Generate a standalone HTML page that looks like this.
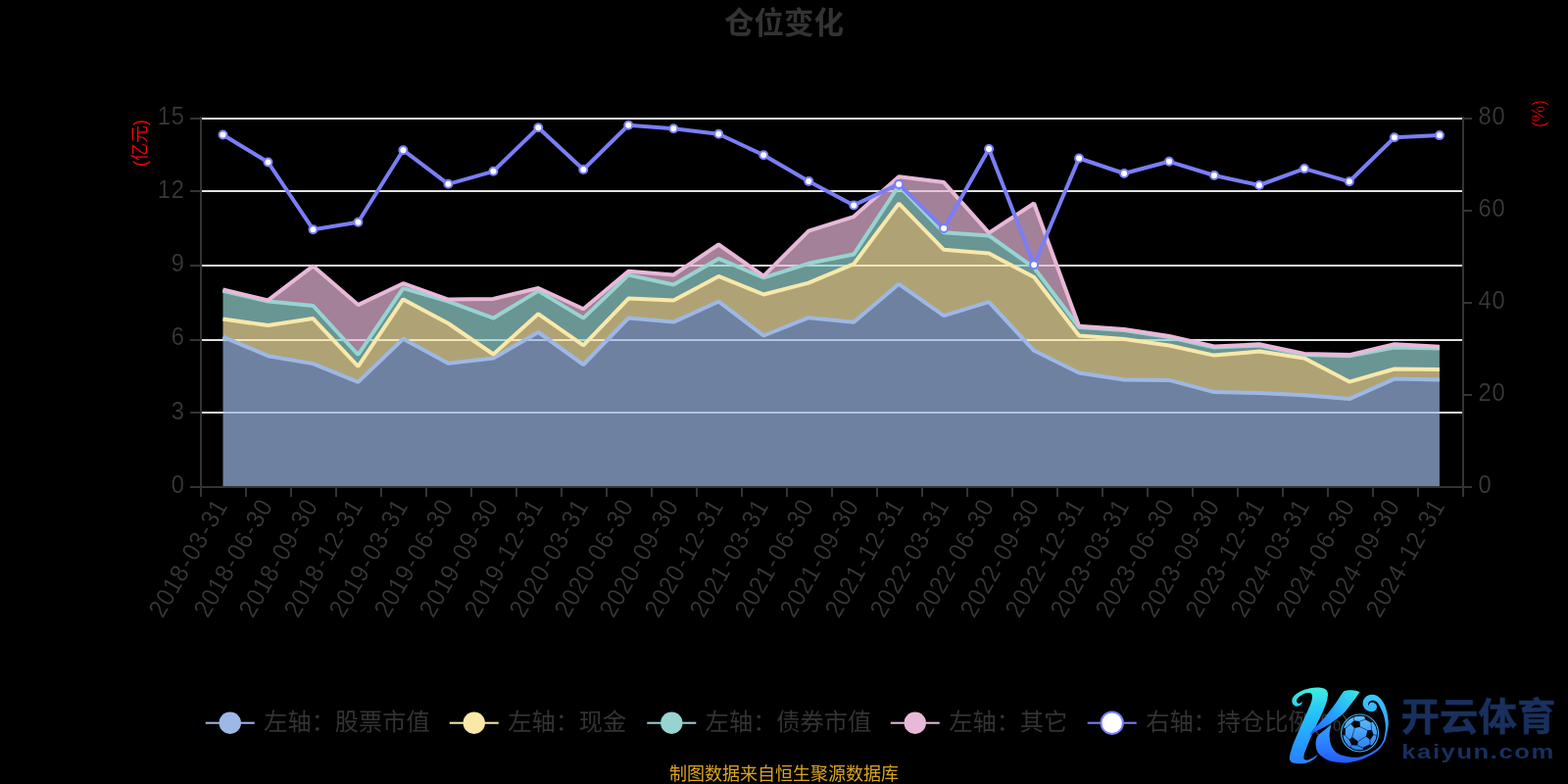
<!DOCTYPE html>
<html lang="zh-CN"><head><meta charset="utf-8"><title>仓位变化</title>
<style>
html,body{margin:0;padding:0;background:#000;}
body{width:1600px;height:800px;overflow:hidden;font-family:"Liberation Sans",sans-serif;}
svg{display:block;will-change:transform}
.lab text,text.lab{font-family:"Liberation Sans",sans-serif;font-size:26px;fill:#3a3a3a;stroke:#000;stroke-width:0.2px}
text.nm{font-family:"Liberation Sans",sans-serif;font-size:18px;fill:#f00;stroke:#000;stroke-width:0.35px}
text.cj{font-family:"Liberation Sans","Noto Sans CJK SC",sans-serif}
</style></head><body>
<svg width="1600" height="800" viewBox="0 0 1600 800">
<rect width="1600" height="800" fill="#000"/>
<rect x="206" y="120" width="1286" height="2" fill="#e0e0e0"/>
<rect x="206" y="194" width="1286" height="2" fill="#e0e0e0"/>
<rect x="206" y="270" width="1286" height="2" fill="#e0e0e0"/>
<rect x="206" y="346" width="1286" height="2" fill="#e0e0e0"/>
<rect x="206" y="420" width="1286" height="2" fill="#e0e0e0"/>
<polygon points="227.5,343.6 273.5,363.2 319.5,371.1 365.4,389.9 411.4,345.8 457.4,370.8 503.4,365.5 549.3,339.0 595.3,372.0 641.3,324.5 687.3,328.6 733.3,307.7 779.2,342.5 825.2,324.2 871.2,328.8 917.2,289.8 963.1,322.2 1009.1,308.1 1055.1,357.8 1101.1,380.5 1147.1,387.5 1193.0,387.9 1239.0,400.1 1285.0,401.1 1331.0,403.2 1376.9,407.1 1422.9,386.6 1468.9,387.5 1468.9,497.0 1422.9,497.0 1376.9,497.0 1331.0,497.0 1285.0,497.0 1239.0,497.0 1193.0,497.0 1147.1,497.0 1101.1,497.0 1055.1,497.0 1009.1,497.0 963.1,497.0 917.2,497.0 871.2,497.0 825.2,497.0 779.2,497.0 733.3,497.0 687.3,497.0 641.3,497.0 595.3,497.0 549.3,497.0 503.4,497.0 457.4,497.0 411.4,497.0 365.4,497.0 319.5,497.0 273.5,497.0 227.5,497.0" fill="#9db8e6" fill-opacity="0.7"/>
<polygon points="227.5,325.6 273.5,332.1 319.5,325.1 365.4,373.8 411.4,305.4 457.4,330.0 503.4,361.5 549.3,320.3 595.3,352.4 641.3,304.6 687.3,306.5 733.3,281.9 779.2,300.5 825.2,288.6 871.2,269.4 917.2,207.6 963.1,254.8 1009.1,258.6 1055.1,282.8 1101.1,342.5 1147.1,345.9 1193.0,352.5 1239.0,362.6 1285.0,358.6 1331.0,365.6 1376.9,389.6 1422.9,376.5 1468.9,377.0 1468.9,387.5 1422.9,386.6 1376.9,407.1 1331.0,403.2 1285.0,401.1 1239.0,400.1 1193.0,387.9 1147.1,387.5 1101.1,380.5 1055.1,357.8 1009.1,308.1 963.1,322.2 917.2,289.8 871.2,328.8 825.2,324.2 779.2,342.5 733.3,307.7 687.3,328.6 641.3,324.5 595.3,372.0 549.3,339.0 503.4,365.5 457.4,370.8 411.4,345.8 365.4,389.9 319.5,371.1 273.5,363.2 227.5,343.6" fill="#fae8a8" fill-opacity="0.7"/>
<polygon points="227.5,296.8 273.5,307.6 319.5,312.0 365.4,362.0 411.4,294.1 457.4,307.6 503.4,324.7 549.3,296.9 595.3,324.6 641.3,280.6 687.3,290.5 733.3,263.9 779.2,283.4 825.2,268.8 871.2,259.5 917.2,189.5 963.1,237.3 1009.1,240.4 1055.1,273.1 1101.1,334.0 1147.1,337.1 1193.0,344.1 1239.0,354.6 1285.0,352.5 1331.0,362.0 1376.9,363.2 1422.9,354.6 1468.9,355.4 1468.9,377.0 1422.9,376.5 1376.9,389.6 1331.0,365.6 1285.0,358.6 1239.0,362.6 1193.0,352.5 1147.1,345.9 1101.1,342.5 1055.1,282.8 1009.1,258.6 963.1,254.8 917.2,207.6 871.2,269.4 825.2,288.6 779.2,300.5 733.3,281.9 687.3,306.5 641.3,304.6 595.3,352.4 549.3,320.3 503.4,361.5 457.4,330.0 411.4,305.4 365.4,373.8 319.5,325.1 273.5,332.1 227.5,325.6" fill="#96d4d2" fill-opacity="0.7"/>
<polygon points="227.5,295.5 273.5,306.4 319.5,271.4 365.4,311.1 411.4,289.2 457.4,305.6 503.4,304.9 549.3,294.0 595.3,315.2 641.3,276.7 687.3,280.5 733.3,249.5 779.2,281.6 825.2,235.6 871.2,221.1 917.2,180.2 963.1,186.1 1009.1,237.7 1055.1,207.5 1101.1,332.7 1147.1,335.9 1193.0,342.9 1239.0,353.4 1285.0,351.3 1331.0,360.9 1376.9,362.1 1422.9,351.3 1468.9,353.7 1468.9,355.4 1422.9,354.6 1376.9,363.2 1331.0,362.0 1285.0,352.5 1239.0,354.6 1193.0,344.1 1147.1,337.1 1101.1,334.0 1055.1,273.1 1009.1,240.4 963.1,237.3 917.2,189.5 871.2,259.5 825.2,268.8 779.2,283.4 733.3,263.9 687.3,290.5 641.3,280.6 595.3,324.6 549.3,296.9 503.4,324.7 457.4,307.6 411.4,294.1 365.4,362.0 319.5,312.0 273.5,307.6 227.5,296.8" fill="#e8b8d8" fill-opacity="0.7"/>
<polyline points="227.5,343.6 273.5,363.2 319.5,371.1 365.4,389.9 411.4,345.8 457.4,370.8 503.4,365.5 549.3,339.0 595.3,372.0 641.3,324.5 687.3,328.6 733.3,307.7 779.2,342.5 825.2,324.2 871.2,328.8 917.2,289.8 963.1,322.2 1009.1,308.1 1055.1,357.8 1101.1,380.5 1147.1,387.5 1193.0,387.9 1239.0,400.1 1285.0,401.1 1331.0,403.2 1376.9,407.1 1422.9,386.6 1468.9,387.5" fill="none" stroke="#9db8e6" stroke-width="4" stroke-linejoin="bevel"/>
<polyline points="227.5,325.6 273.5,332.1 319.5,325.1 365.4,373.8 411.4,305.4 457.4,330.0 503.4,361.5 549.3,320.3 595.3,352.4 641.3,304.6 687.3,306.5 733.3,281.9 779.2,300.5 825.2,288.6 871.2,269.4 917.2,207.6 963.1,254.8 1009.1,258.6 1055.1,282.8 1101.1,342.5 1147.1,345.9 1193.0,352.5 1239.0,362.6 1285.0,358.6 1331.0,365.6 1376.9,389.6 1422.9,376.5 1468.9,377.0" fill="none" stroke="#fae8a8" stroke-width="4" stroke-linejoin="bevel"/>
<polyline points="227.5,296.8 273.5,307.6 319.5,312.0 365.4,362.0 411.4,294.1 457.4,307.6 503.4,324.7 549.3,296.9 595.3,324.6 641.3,280.6 687.3,290.5 733.3,263.9 779.2,283.4 825.2,268.8 871.2,259.5 917.2,189.5 963.1,237.3 1009.1,240.4 1055.1,273.1 1101.1,334.0 1147.1,337.1 1193.0,344.1 1239.0,354.6 1285.0,352.5 1331.0,362.0 1376.9,363.2 1422.9,354.6 1468.9,355.4" fill="none" stroke="#96d4d2" stroke-width="4" stroke-linejoin="bevel"/>
<polyline points="227.5,295.5 273.5,306.4 319.5,271.4 365.4,311.1 411.4,289.2 457.4,305.6 503.4,304.9 549.3,294.0 595.3,315.2 641.3,276.7 687.3,280.5 733.3,249.5 779.2,281.6 825.2,235.6 871.2,221.1 917.2,180.2 963.1,186.1 1009.1,237.7 1055.1,207.5 1101.1,332.7 1147.1,335.9 1193.0,342.9 1239.0,353.4 1285.0,351.3 1331.0,360.9 1376.9,362.1 1422.9,351.3 1468.9,353.7" fill="none" stroke="#e8b8d8" stroke-width="4" stroke-linejoin="bevel"/>
<polyline points="227.5,137.5 273.5,165.5 319.5,234.2 365.4,226.8 411.4,153.2 457.4,187.8 503.4,174.8 549.3,130.2 595.3,173.0 641.3,127.8 687.3,131.2 733.3,136.8 779.2,158.2 825.2,184.9 871.2,209.4 917.2,187.9 963.1,233.0 1009.1,152.0 1055.1,270.2 1101.1,161.5 1147.1,177.0 1193.0,164.8 1239.0,179.0 1285.0,189.0 1331.0,172.1 1376.9,185.3 1422.9,140.3 1468.9,138.1" fill="none" stroke="#7a7ef6" stroke-width="4" stroke-linejoin="bevel"/>
<g fill="#fff" stroke="#7a7ef6" stroke-width="2"><circle cx="227.5" cy="137.5" r="4"/><circle cx="273.5" cy="165.5" r="4"/><circle cx="319.5" cy="234.2" r="4"/><circle cx="365.4" cy="226.8" r="4"/><circle cx="411.4" cy="153.2" r="4"/><circle cx="457.4" cy="187.8" r="4"/><circle cx="503.4" cy="174.8" r="4"/><circle cx="549.3" cy="130.2" r="4"/><circle cx="595.3" cy="173.0" r="4"/><circle cx="641.3" cy="127.8" r="4"/><circle cx="687.3" cy="131.2" r="4"/><circle cx="733.3" cy="136.8" r="4"/><circle cx="779.2" cy="158.2" r="4"/><circle cx="825.2" cy="184.9" r="4"/><circle cx="871.2" cy="209.4" r="4"/><circle cx="917.2" cy="187.9" r="4"/><circle cx="963.1" cy="233.0" r="4"/><circle cx="1009.1" cy="152.0" r="4"/><circle cx="1055.1" cy="270.2" r="4"/><circle cx="1101.1" cy="161.5" r="4"/><circle cx="1147.1" cy="177.0" r="4"/><circle cx="1193.0" cy="164.8" r="4"/><circle cx="1239.0" cy="179.0" r="4"/><circle cx="1285.0" cy="189.0" r="4"/><circle cx="1331.0" cy="172.1" r="4"/><circle cx="1376.9" cy="185.3" r="4"/><circle cx="1422.9" cy="140.3" r="4"/><circle cx="1468.9" cy="138.1" r="4"/></g>
<g fill="#333">
<rect x="204" y="119" width="2" height="379"/>
<rect x="1492" y="119" width="2" height="379"/>
<rect x="204" y="496" width="1290" height="2"/>
<rect x="194" y="120" width="10" height="2"/>
<rect x="194" y="194" width="10" height="2"/>
<rect x="194" y="270" width="10" height="2"/>
<rect x="194" y="346" width="10" height="2"/>
<rect x="194" y="420" width="10" height="2"/>
<rect x="194" y="496" width="10" height="2"/>
<rect x="1494" y="120" width="8" height="2"/>
<rect x="1494" y="214" width="8" height="2"/>
<rect x="1494" y="308" width="8" height="2"/>
<rect x="1494" y="402" width="8" height="2"/>
<rect x="1494" y="496" width="8" height="2"/>
<rect x="204" y="498" width="2" height="9"/>
<rect x="250" y="498" width="2" height="9"/>
<rect x="296" y="498" width="2" height="9"/>
<rect x="342" y="498" width="2" height="9"/>
<rect x="388" y="498" width="2" height="9"/>
<rect x="434" y="498" width="2" height="9"/>
<rect x="480" y="498" width="2" height="9"/>
<rect x="526" y="498" width="2" height="9"/>
<rect x="572" y="498" width="2" height="9"/>
<rect x="618" y="498" width="2" height="9"/>
<rect x="664" y="498" width="2" height="9"/>
<rect x="710" y="498" width="2" height="9"/>
<rect x="756" y="498" width="2" height="9"/>
<rect x="802" y="498" width="2" height="9"/>
<rect x="848" y="498" width="2" height="9"/>
<rect x="894" y="498" width="2" height="9"/>
<rect x="940" y="498" width="2" height="9"/>
<rect x="986" y="498" width="2" height="9"/>
<rect x="1032" y="498" width="2" height="9"/>
<rect x="1078" y="498" width="2" height="9"/>
<rect x="1124" y="498" width="2" height="9"/>
<rect x="1170" y="498" width="2" height="9"/>
<rect x="1216" y="498" width="2" height="9"/>
<rect x="1262" y="498" width="2" height="9"/>
<rect x="1308" y="498" width="2" height="9"/>
<rect x="1354" y="498" width="2" height="9"/>
<rect x="1400" y="498" width="2" height="9"/>
<rect x="1446" y="498" width="2" height="9"/>
<rect x="1492" y="498" width="2" height="9"/>
</g>
<g class="lab" style="opacity:0.999">
<g transform="translate(188.3 126.7) scale(0.91 1)"><text x="-30.41 -14.96">15</text></g>
<g transform="translate(188.3 201.9) scale(0.91 1)"><text x="-30.41 -14.96">12</text></g>
<g transform="translate(188.3 277.1) scale(0.91 1)"><text x="-14.96">9</text></g>
<g transform="translate(188.3 352.3) scale(0.91 1)"><text x="-14.96">6</text></g>
<g transform="translate(188.3 427.5) scale(0.91 1)"><text x="-14.96">3</text></g>
<g transform="translate(188.3 502.7) scale(0.91 1)"><text x="-14.96">0</text></g>
<g transform="translate(1508 126.7) scale(0.91 1)"><text x="0.49 15.95">80</text></g>
<g transform="translate(1508 220.7) scale(0.91 1)"><text x="0.49 15.95">60</text></g>
<g transform="translate(1508 314.7) scale(0.91 1)"><text x="0.49 15.95">40</text></g>
<g transform="translate(1508 408.7) scale(0.91 1)"><text x="0.49 15.95">20</text></g>
<g transform="translate(1508 502.7) scale(0.91 1)"><text x="0.49">0</text></g>
<g transform="translate(228.0 513) rotate(-60) translate(0 5.7) scale(0.91 1)"><text x="-146.85 -131.40 -115.94 -100.49 -83.93 -73.18 -57.73 -41.16 -30.41 -14.96">2018-03-31</text></g>
<g transform="translate(274.0 513) rotate(-60) translate(0 5.7) scale(0.91 1)"><text x="-146.85 -131.40 -115.94 -100.49 -83.93 -73.18 -57.73 -41.16 -30.41 -14.96">2018-06-30</text></g>
<g transform="translate(320.0 513) rotate(-60) translate(0 5.7) scale(0.91 1)"><text x="-146.85 -131.40 -115.94 -100.49 -83.93 -73.18 -57.73 -41.16 -30.41 -14.96">2018-09-30</text></g>
<g transform="translate(366.0 513) rotate(-60) translate(0 5.7) scale(0.91 1)"><text x="-146.85 -131.40 -115.94 -100.49 -83.93 -73.18 -57.73 -41.16 -30.41 -14.96">2018-12-31</text></g>
<g transform="translate(412.0 513) rotate(-60) translate(0 5.7) scale(0.91 1)"><text x="-146.85 -131.40 -115.94 -100.49 -83.93 -73.18 -57.73 -41.16 -30.41 -14.96">2019-03-31</text></g>
<g transform="translate(458.0 513) rotate(-60) translate(0 5.7) scale(0.91 1)"><text x="-146.85 -131.40 -115.94 -100.49 -83.93 -73.18 -57.73 -41.16 -30.41 -14.96">2019-06-30</text></g>
<g transform="translate(504.0 513) rotate(-60) translate(0 5.7) scale(0.91 1)"><text x="-146.85 -131.40 -115.94 -100.49 -83.93 -73.18 -57.73 -41.16 -30.41 -14.96">2019-09-30</text></g>
<g transform="translate(550.0 513) rotate(-60) translate(0 5.7) scale(0.91 1)"><text x="-146.85 -131.40 -115.94 -100.49 -83.93 -73.18 -57.73 -41.16 -30.41 -14.96">2019-12-31</text></g>
<g transform="translate(596.0 513) rotate(-60) translate(0 5.7) scale(0.91 1)"><text x="-146.85 -131.40 -115.94 -100.49 -83.93 -73.18 -57.73 -41.16 -30.41 -14.96">2020-03-31</text></g>
<g transform="translate(642.0 513) rotate(-60) translate(0 5.7) scale(0.91 1)"><text x="-146.85 -131.40 -115.94 -100.49 -83.93 -73.18 -57.73 -41.16 -30.41 -14.96">2020-06-30</text></g>
<g transform="translate(688.0 513) rotate(-60) translate(0 5.7) scale(0.91 1)"><text x="-146.85 -131.40 -115.94 -100.49 -83.93 -73.18 -57.73 -41.16 -30.41 -14.96">2020-09-30</text></g>
<g transform="translate(734.0 513) rotate(-60) translate(0 5.7) scale(0.91 1)"><text x="-146.85 -131.40 -115.94 -100.49 -83.93 -73.18 -57.73 -41.16 -30.41 -14.96">2020-12-31</text></g>
<g transform="translate(780.0 513) rotate(-60) translate(0 5.7) scale(0.91 1)"><text x="-146.85 -131.40 -115.94 -100.49 -83.93 -73.18 -57.73 -41.16 -30.41 -14.96">2021-03-31</text></g>
<g transform="translate(826.0 513) rotate(-60) translate(0 5.7) scale(0.91 1)"><text x="-146.85 -131.40 -115.94 -100.49 -83.93 -73.18 -57.73 -41.16 -30.41 -14.96">2021-06-30</text></g>
<g transform="translate(872.0 513) rotate(-60) translate(0 5.7) scale(0.91 1)"><text x="-146.85 -131.40 -115.94 -100.49 -83.93 -73.18 -57.73 -41.16 -30.41 -14.96">2021-09-30</text></g>
<g transform="translate(918.0 513) rotate(-60) translate(0 5.7) scale(0.91 1)"><text x="-146.85 -131.40 -115.94 -100.49 -83.93 -73.18 -57.73 -41.16 -30.41 -14.96">2021-12-31</text></g>
<g transform="translate(964.0 513) rotate(-60) translate(0 5.7) scale(0.91 1)"><text x="-146.85 -131.40 -115.94 -100.49 -83.93 -73.18 -57.73 -41.16 -30.41 -14.96">2022-03-31</text></g>
<g transform="translate(1010.0 513) rotate(-60) translate(0 5.7) scale(0.91 1)"><text x="-146.85 -131.40 -115.94 -100.49 -83.93 -73.18 -57.73 -41.16 -30.41 -14.96">2022-06-30</text></g>
<g transform="translate(1056.0 513) rotate(-60) translate(0 5.7) scale(0.91 1)"><text x="-146.85 -131.40 -115.94 -100.49 -83.93 -73.18 -57.73 -41.16 -30.41 -14.96">2022-09-30</text></g>
<g transform="translate(1102.0 513) rotate(-60) translate(0 5.7) scale(0.91 1)"><text x="-146.85 -131.40 -115.94 -100.49 -83.93 -73.18 -57.73 -41.16 -30.41 -14.96">2022-12-31</text></g>
<g transform="translate(1148.0 513) rotate(-60) translate(0 5.7) scale(0.91 1)"><text x="-146.85 -131.40 -115.94 -100.49 -83.93 -73.18 -57.73 -41.16 -30.41 -14.96">2023-03-31</text></g>
<g transform="translate(1194.0 513) rotate(-60) translate(0 5.7) scale(0.91 1)"><text x="-146.85 -131.40 -115.94 -100.49 -83.93 -73.18 -57.73 -41.16 -30.41 -14.96">2023-06-30</text></g>
<g transform="translate(1240.0 513) rotate(-60) translate(0 5.7) scale(0.91 1)"><text x="-146.85 -131.40 -115.94 -100.49 -83.93 -73.18 -57.73 -41.16 -30.41 -14.96">2023-09-30</text></g>
<g transform="translate(1286.0 513) rotate(-60) translate(0 5.7) scale(0.91 1)"><text x="-146.85 -131.40 -115.94 -100.49 -83.93 -73.18 -57.73 -41.16 -30.41 -14.96">2023-12-31</text></g>
<g transform="translate(1332.0 513) rotate(-60) translate(0 5.7) scale(0.91 1)"><text x="-146.85 -131.40 -115.94 -100.49 -83.93 -73.18 -57.73 -41.16 -30.41 -14.96">2024-03-31</text></g>
<g transform="translate(1378.0 513) rotate(-60) translate(0 5.7) scale(0.91 1)"><text x="-146.85 -131.40 -115.94 -100.49 -83.93 -73.18 -57.73 -41.16 -30.41 -14.96">2024-06-30</text></g>
<g transform="translate(1424.0 513) rotate(-60) translate(0 5.7) scale(0.91 1)"><text x="-146.85 -131.40 -115.94 -100.49 -83.93 -73.18 -57.73 -41.16 -30.41 -14.96">2024-09-30</text></g>
<g transform="translate(1470.0 513) rotate(-60) translate(0 5.7) scale(0.91 1)"><text x="-146.85 -131.40 -115.94 -100.49 -83.93 -73.18 -57.73 -41.16 -30.41 -14.96">2024-12-31</text></g>
</g>
<g style="opacity:0.999"><text class="nm" transform="translate(1569.6 116) rotate(-90)" text-anchor="middle" y="6.5">(%)</text></g>
<g transform="translate(142.5 145.9) rotate(-90) translate(0 6.6)"><text class="cj" x="0" y="0" text-anchor="middle" font-size="18" fill="#f00">(亿元)</text></g>
<text class="cj" x="739" y="34.3" font-size="30.5" font-weight="bold" fill="#333">仓位变化</text>
<rect x="209.75" y="736.70" width="50" height="2" fill="#9db8e6"/>
<circle cx="234.75" cy="737.70" r="11.2" fill="#9db8e6"/>
<text class="cj" x="269.25" y="744.9" font-size="24.2" fill="#333">左轴：股票市值</text>
<rect x="458.75" y="736.70" width="50" height="2" fill="#fae8a8"/>
<circle cx="483.75" cy="737.70" r="11.2" fill="#fae8a8"/>
<text class="cj" x="518.25" y="744.9" font-size="24.2" fill="#333">左轴：现金</text>
<rect x="660.30" y="736.70" width="50" height="2" fill="#96d4d2"/>
<circle cx="685.30" cy="737.70" r="11.2" fill="#96d4d2"/>
<text class="cj" x="719.8" y="744.9" font-size="24.2" fill="#333">左轴：债券市值</text>
<rect x="908.75" y="736.70" width="50" height="2" fill="#e8b8d8"/>
<circle cx="933.75" cy="737.70" r="11.2" fill="#e8b8d8"/>
<text class="cj" x="968.25" y="744.9" font-size="24.2" fill="#333">左轴：其它</text>
<rect x="1109.70" y="736.70" width="50" height="2" fill="#7a7ef6"/>
<circle cx="1134.70" cy="737.70" r="11.2" fill="#fff" stroke="#7a7ef6" stroke-width="2"/>
<text class="cj" x="1169.2" y="744.9" font-size="24.2" fill="#333">右轴：持仓比例</text>
<g style="opacity:0.999"><text class="lab" x="1339.60" y="745.6" style="font-size:24px">(%)</text></g>
<text class="cj" x="683" y="796" font-size="18" fill="#daa520">制图数据来自恒生聚源数据库</text>
<defs><linearGradient id="kg" gradientUnits="userSpaceOnUse" x1="0" y1="30" x2="0" y2="750"><stop offset="0" stop-color="#40eedc"/><stop offset="0.3" stop-color="#27c6fa"/><stop offset="0.6" stop-color="#25a6ff"/><stop offset="1" stop-color="#2a7cff"/></linearGradient><linearGradient id="sg" gradientUnits="userSpaceOnUse" x1="0" y1="90" x2="0" y2="750"><stop offset="0" stop-color="#3ccafa"/><stop offset="0.25" stop-color="#36b2ff"/><stop offset="0.5" stop-color="#2f98ff"/><stop offset="0.78" stop-color="#2a74ff"/><stop offset="1" stop-color="#2350fa"/></linearGradient><linearGradient id="bg" gradientUnits="userSpaceOnUse" x1="0" y1="290" x2="0" y2="600"><stop offset="0" stop-color="#5cc0ff"/><stop offset="1" stop-color="#2f7cf0"/></linearGradient><linearGradient id="ag" gradientUnits="userSpaceOnUse" x1="620" y1="60" x2="250" y2="460"><stop offset="0" stop-color="#38e0e6"/><stop offset="0.45" stop-color="#24a8ff"/><stop offset="0.8" stop-color="#2a78ff"/><stop offset="1" stop-color="#2a50f0"/></linearGradient></defs>
<g transform="translate(1310 698) scale(0.11250)">
<path d="M433.0,369.0 C422.3,377.2 388.7,402.5 369.0,418.0 C349.3,433.5 327.7,447.2 315.0,462.0 C302.3,476.8 297.2,492.2 293.0,507.0 C288.8,521.8 288.8,535.5 290.0,551.0 C291.2,566.5 293.3,584.3 300.0,600.0 C306.7,615.7 313.3,630.0 330.0,645.0 C346.7,660.0 374.5,679.3 400.0,690.0 C425.5,700.7 455.2,704.8 483.0,709.0 C510.8,713.2 539.2,716.3 567.0,715.0 C594.8,713.7 622.3,708.0 650.0,701.0 C677.7,694.0 705.2,685.0 733.0,673.0 C760.8,661.0 793.8,643.8 817.0,629.0 C840.2,614.2 855.3,602.5 872.0,584.0 C888.7,565.5 907.0,538.3 917.0,518.0 C927.0,497.7 927.0,484.0 932.0,462.0 C937.0,440.0 944.3,408.0 947.0,386.0 C949.7,364.0 948.8,346.0 948.0,330.0 C947.2,314.0 944.2,302.8 942.0,290.0 C939.8,277.2 939.3,269.2 935.0,253.0 C930.7,236.8 923.7,210.7 916.0,193.0 C908.3,175.3 899.0,160.3 889.0,147.0 C879.0,133.7 867.7,121.2 856.0,113.0 C844.3,104.8 831.3,100.7 819.0,98.0 C806.7,95.3 793.7,95.0 782.0,97.0 C770.3,99.0 758.3,103.3 749.0,110.0 C739.7,116.7 731.5,127.0 726.0,137.0 C720.5,147.0 716.7,159.0 716.0,170.0 C715.3,181.0 717.7,193.0 722.0,203.0 C726.3,213.0 733.7,222.7 742.0,230.0 C750.3,237.3 761.3,243.7 772.0,247.0 C782.7,250.3 796.5,251.2 806.0,250.0 C815.5,248.8 823.0,245.0 829.0,240.0 C835.0,235.0 839.5,226.7 842.0,220.0 C844.5,213.3 845.0,206.3 844.0,200.0 C843.0,193.7 840.7,187.3 836.0,182.0 C831.3,176.7 823.3,170.5 816.0,168.0 C808.7,165.5 798.7,165.3 792.0,167.0 C785.3,168.7 779.2,172.5 776.0,178.0 C772.8,183.5 773.5,196.3 773.0,200.0 C771.7,196.8 764.8,187.3 765.0,181.0 C765.2,174.7 769.5,167.0 774.0,162.0 C778.5,157.0 784.3,152.8 792.0,151.0 C799.7,149.2 811.0,148.7 820.0,151.0 C829.0,153.3 838.7,158.5 846.0,165.0 C853.3,171.5 858.0,179.7 864.0,190.0 C870.0,200.3 875.7,213.7 882.0,227.0 C888.3,240.3 896.3,253.7 902.0,270.0 C907.7,286.3 912.5,305.0 916.0,325.0 C919.5,345.0 923.0,368.3 923.0,390.0 C923.0,411.7 919.8,433.7 916.0,455.0 C912.2,476.3 909.2,498.3 900.0,518.0 C890.8,537.7 879.5,555.5 861.0,573.0 C842.5,590.5 814.8,609.0 789.0,623.0 C763.2,637.0 733.8,650.0 706.0,657.0 C678.2,664.0 647.0,665.5 622.0,665.0 C597.0,664.5 578.2,660.0 556.0,654.0 C533.8,648.0 507.5,640.5 489.0,629.0 C470.5,617.5 456.2,601.7 445.0,585.0 C433.8,568.3 427.0,549.5 422.0,529.0 C417.0,508.5 415.3,481.0 415.0,462.0 C414.7,443.0 417.0,430.5 420.0,415.0 C423.0,399.5 430.8,376.7 433.0,369.0 Z" fill="url(#sg)"/>
<path d="M401.0,93.0 C399.3,103.0 397.2,130.7 391.0,153.0 C384.8,175.3 374.0,202.5 364.0,227.0 C354.0,251.5 342.0,276.7 331.0,300.0 C320.0,323.3 309.2,343.7 298.0,367.0 C286.8,390.3 276.2,412.8 264.0,440.0 C251.8,467.2 236.0,503.3 225.0,530.0 C214.0,556.7 205.2,580.0 198.0,600.0 C190.8,620.0 184.3,636.0 182.0,650.0 C179.7,664.0 183.7,678.3 184.0,684.0 C189.2,684.7 201.5,690.7 215.0,688.0 C228.5,685.3 248.8,676.3 265.0,668.0 C281.2,659.7 304.2,643.0 312.0,638.0 C305.0,645.8 288.7,671.7 270.0,685.0 C251.3,698.3 224.2,711.8 200.0,718.0 C175.8,724.2 145.8,723.0 125.0,722.0 C104.2,721.0 87.2,719.0 75.0,712.0 C62.8,705.0 54.8,693.7 52.0,680.0 C49.2,666.3 57.0,638.3 58.0,630.0 C62.5,615.8 75.0,572.2 85.0,545.0 C95.0,517.8 107.0,493.3 118.0,467.0 C129.0,440.7 140.0,412.7 151.0,387.0 C162.0,361.3 172.8,337.5 184.0,313.0 C195.2,288.5 207.3,264.3 218.0,240.0 C228.7,215.7 241.3,187.5 248.0,167.0 C254.7,146.5 257.3,129.5 258.0,117.0 C258.7,104.5 255.3,98.2 252.0,92.0 C248.7,85.8 246.0,81.5 238.0,80.0 C230.0,78.5 216.3,79.7 204.0,83.0 C191.7,86.3 175.7,93.8 164.0,100.0 C152.3,106.2 141.7,112.8 134.0,120.0 C126.3,127.2 120.7,135.8 118.0,143.0 C115.3,150.2 115.8,157.7 118.0,163.0 C120.2,168.3 125.5,173.8 131.0,175.0 C136.5,176.2 144.8,173.0 151.0,170.0 C157.2,167.0 165.2,159.2 168.0,157.0 C166.7,161.2 166.2,174.8 160.0,182.0 C153.8,189.2 140.3,197.0 131.0,200.0 C121.7,203.0 112.3,203.3 104.0,200.0 C95.7,196.7 86.0,187.8 81.0,180.0 C76.0,172.2 73.5,163.0 74.0,153.0 C74.5,143.0 76.7,131.0 84.0,120.0 C91.3,109.0 103.5,97.5 118.0,87.0 C132.5,76.5 151.0,65.3 171.0,57.0 C191.0,48.7 215.8,41.5 238.0,37.0 C260.2,32.5 284.0,30.0 304.0,30.0 C324.0,30.0 343.5,32.0 358.0,37.0 C372.5,42.0 383.8,50.7 391.0,60.0 C398.2,69.3 399.3,87.5 401.0,93.0 Z" fill="url(#kg)"/>
<path d="M690.0,72.0 C681.7,69.7 657.5,60.7 640.0,58.0 C622.5,55.3 600.8,54.8 585.0,56.0 C569.2,57.2 551.7,63.5 545.0,65.0 C540.5,70.8 528.2,85.3 518.0,100.0 C507.8,114.7 498.5,131.8 484.0,153.0 C469.5,174.2 448.7,203.7 431.0,227.0 C413.3,250.3 396.8,270.8 378.0,293.0 C359.2,315.2 335.8,341.3 318.0,360.0 C300.2,378.7 284.7,388.0 271.0,405.0 C257.3,422.0 241.8,452.5 236.0,462.0 C238.2,461.2 238.7,462.8 249.0,457.0 C259.3,451.2 281.0,436.5 298.0,427.0 C315.0,417.5 331.0,411.2 351.0,400.0 C371.0,388.8 395.8,374.5 418.0,360.0 C440.2,345.5 461.8,330.2 484.0,313.0 C506.2,295.8 529.8,279.2 551.0,257.0 C572.2,234.8 593.7,202.5 611.0,180.0 C628.3,157.5 641.8,140.0 655.0,122.0 C668.2,104.0 684.2,80.3 690.0,72.0 Z" fill="url(#ag)"/>
<circle cx="689.3" cy="444.4" r="168.5" fill="none" stroke="#45b2fc" stroke-width="10"/>
<clipPath id="bc"><circle cx="689.3" cy="444.4" r="156"/></clipPath>
<g clip-path="url(#bc)">
<circle cx="689.3" cy="444.4" r="156" fill="url(#bg)"/>
<polygon points="637.1,332.0 689.3,338.1 693.3,388.2 642.2,399.5 605.4,361.6" fill="#020812"/>
<polygon points="758.8,419.9 796.6,416.3 816.0,460.8 782.8,506.8 745.5,476.1" fill="#020812"/>
<polygon points="620.8,480.2 673.9,520.1 668.8,557.9 614.1,554.3 592.7,504.7" fill="#020812"/>
<polygon points="729.1,280.9 816.0,337.1 791.5,351.4 738.3,321.8" fill="#020812"/>
<polygon points="713.8,577.3 781.2,545.6 800.7,562.0 775.1,597.8 729.1,608.0" fill="#020812"/>
<polygon points="524.7,388.2 560.5,399.5 556.4,464.9 524.7,470.0" fill="#020812"/>
<line x1="637.1" y1="332.0" x2="629.5" y2="286.0" stroke="#031020" stroke-width="5"/>
<line x1="689.3" y1="338.1" x2="738.3" y2="321.8" stroke="#031020" stroke-width="5"/>
<line x1="693.3" y1="388.2" x2="758.8" y2="419.9" stroke="#031020" stroke-width="5"/>
<line x1="642.2" y1="399.5" x2="620.8" y2="480.2" stroke="#031020" stroke-width="5"/>
<line x1="745.5" y1="476.1" x2="673.9" y2="520.1" stroke="#031020" stroke-width="5"/>
<line x1="605.4" y1="361.6" x2="560.5" y2="399.5" stroke="#031020" stroke-width="5"/>
<line x1="592.7" y1="504.7" x2="556.4" y2="464.9" stroke="#031020" stroke-width="5"/>
<line x1="782.8" y1="506.8" x2="781.2" y2="545.6" stroke="#031020" stroke-width="5"/>
<line x1="668.8" y1="557.9" x2="713.8" y2="577.3" stroke="#031020" stroke-width="5"/>
<line x1="816.0" y1="460.8" x2="856.9" y2="467.4" stroke="#031020" stroke-width="5"/>
<line x1="796.6" y1="416.3" x2="791.5" y2="351.4" stroke="#031020" stroke-width="5"/>
<line x1="614.1" y1="554.3" x2="603.9" y2="587.5" stroke="#031020" stroke-width="5"/>
</g>
</g>
<g transform="translate(1429.6 745.3) scale(1.022 1)"><text class="cj" x="0" y="0" font-size="38.6" font-weight="bold" fill="#19305e" stroke="#19305e" stroke-width="0.54">开云体育</text></g>
<g transform="translate(1430.3 773.8) scale(1.25 1)"><text x="0" y="0" textLength="124" lengthAdjust="spacing" style="font-family:'Liberation Sans',sans-serif;font-weight:bold;font-size:20.5px;fill:#19305e">kaiyun.com</text></g>
</svg>
</body></html>
